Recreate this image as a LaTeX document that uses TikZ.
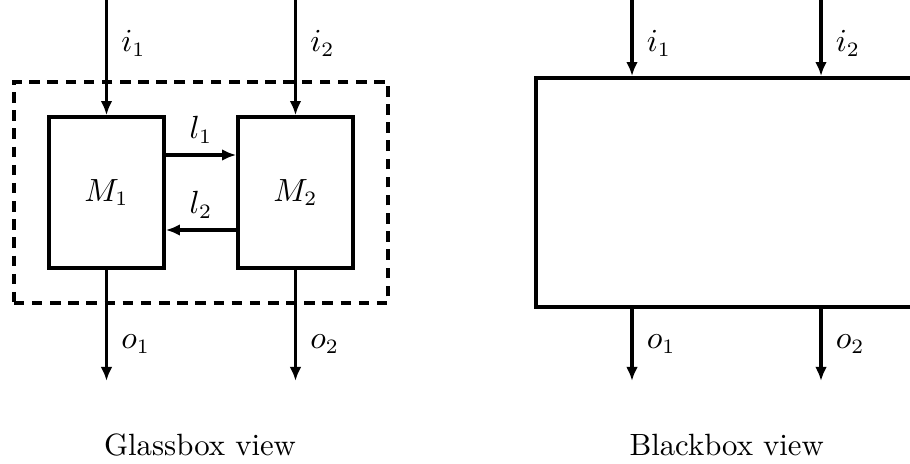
\documentclass[tikz,border=0pt]{standalone}
\usepackage{amsmath,amssymb}
\usepackage{tikz}
\usetikzlibrary{arrows.meta, positioning, fit, calc}
\tikzset{
  modbox/.style={
    draw, line width=1.3pt, align=center,
    minimum width=1.38cm, minimum height=1.81cm, inner sep=0pt
  },
  glassframe/.style={
    draw, line width=1.3pt, dash pattern=on 3.6pt off 2.6pt,
    inner sep=0.4cm
  },
  blackframe/.style={
    draw, line width=1.3pt,
    minimum width=4.572cm, minimum height=2.748cm, inner sep=0pt
  },
  flowarrow/.style={
    -{Latex[length=4.8pt, width=4pt]}, line width=1.3pt
  },
  portlabel/.style={right=0.05cm, inner sep=3pt},
  viewlabel/.style={},
}

\begin{document}
\begin{tikzpicture}[font=\fontsize{10.5}{12.6}\selectfont]
  \useasboundingbox (0,0) rectangle (10.92,-5.568);

  % ── Glassbox view ──
  \node[modbox] (M1) at (1.278,-2.31) {$M_1$};
  \node[modbox] (M2) at (3.546,-2.31) {$M_2$};
  \node[glassframe, fit=(M1) (M2)] (glass) {};

  \coordinate (gin1) at (1.278,0);
  \coordinate (gin2) at (3.546,0);
  \coordinate (gout1) at (1.278,-4.572);
  \coordinate (gout2) at (3.546,-4.572);

  \draw[flowarrow] (gin1) -- (M1.north) node[pos=0.38, portlabel] {$i_1$};
  \draw[flowarrow] (gin2) -- (M2.north) node[pos=0.38, portlabel] {$i_2$};
  \draw[flowarrow] (M1.south) -- (gout1) node[pos=0.67, portlabel] {$o_1$};
  \draw[flowarrow] (M2.south) -- (gout2) node[pos=0.67, portlabel] {$o_2$};

  \draw[flowarrow] ([yshift=0.45cm]M1.east) -- ([yshift=0.45cm]M2.west)
    node[midway, above] {$l_1$};
  \draw[flowarrow] ([yshift=-0.45cm]M2.west) -- ([yshift=-0.45cm]M1.east)
    node[midway, above] {$l_2$};

  \node[viewlabel] (glasstitle) at (2.4,-5.34) {Glassbox view};

  % ── Blackbox view ──
  \node[blackframe] (BB) at (8.718,-2.31) {};

  \coordinate (bin1) at (7.584,0);
  \coordinate (bin2) at (9.852,0);
  \coordinate (bout1) at (7.584,-4.572);
  \coordinate (bout2) at (9.852,-4.572);

  \draw[flowarrow] (bin1) -- (BB.north -| bin1) node[pos=0.57, portlabel] {$i_1$};
  \draw[flowarrow] (bin2) -- (BB.north -| bin2) node[pos=0.57, portlabel] {$i_2$};
  \draw[flowarrow] (BB.south -| bout1) -- (bout1) node[pos=0.49, portlabel] {$o_1$};
  \draw[flowarrow] (BB.south -| bout2) -- (bout2) node[pos=0.49, portlabel] {$o_2$};

  \node[viewlabel] (blacktitle) at (8.72,-5.34) {Blackbox view};
\end{tikzpicture}
\end{document}
